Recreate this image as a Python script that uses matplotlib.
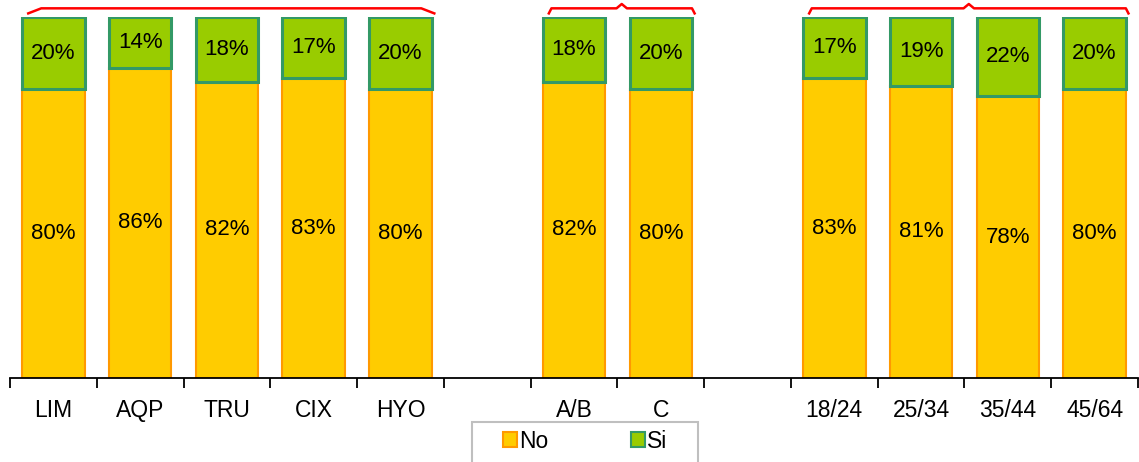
import numpy as np
import matplotlib.pyplot as plt
from matplotlib.patches import Rectangle, Patch
from matplotlib.transforms import blended_transform_factory

plt.rcParams['font.family'] = ['Liberation Sans', 'DejaVu Sans']

# Kategorien (leere Einträge trennen die Gruppen)
categories = ['LIM', 'AQP', 'TRU', 'CIX', 'HYO', '',
              'A/B', 'C', '',
              '18/24', '25/34', '35/44', '45/64']
no_values = [80, 86, 82, 83, 80, None, 82, 80, None, 83, 81, 78, 80]
si_values = [20, 14, 18, 17, 20, None, 18, 20, None, 17, 19, 22, 20]
groups = [(0, 4), (6, 7), (9, 12)]

YELLOW, YELLOW_EDGE = '#FFCC00', '#FF9900'
GREEN, GREEN_EDGE = '#99CC00', '#339966'
BAR_W = 0.72

fig = plt.figure(figsize=(11.39, 4.62), dpi=100, facecolor='w')
ax = fig.add_axes([10 / 1139, 84 / 462, 1128 / 1139, 361 / 462])

x = np.arange(len(categories))
for i, (n, s) in enumerate(zip(no_values, si_values)):
    if n is None:
        continue
    ax.bar(i, n, width=BAR_W, color=YELLOW, edgecolor=YELLOW_EDGE,
           linewidth=1.5)
    ax.bar(i, s, bottom=n, width=BAR_W, color=GREEN, edgecolor=GREEN_EDGE,
           linewidth=2.2)
    ax.text(i, n / 2, f'{n}%', ha='center', va='center', fontsize=16)
    ax.text(i, n + s / 2, f'{s}%', ha='center', va='center', fontsize=16)

ax.set_xlim(-0.5, len(categories) - 0.5)
ax.set_ylim(0, 100)
for side in ['left', 'right', 'top']:
    ax.spines[side].set_visible(False)
ax.spines['bottom'].set_linewidth(1.3)
ax.set_yticks([])
ax.set_xticks(x)
ax.set_xticklabels(categories, fontsize=16.5)
ax.tick_params(axis='x', which='major', length=0, pad=15)
ax.set_xticks(np.arange(-0.5, len(categories), 1), minor=True)
ax.tick_params(axis='x', which='minor', length=7, width=1.3,
               direction='out', color='black')

# Geschweifte Klammern über den Gruppen
trans = blended_transform_factory(ax.transData, ax.transAxes)
for k, (a, b) in enumerate(groups):
    x0 = a - BAR_W / 2 + 0.07
    x1 = b + BAR_W / 2 + 0.03
    xm = (x0 + x1) / 2
    y0, y1 = 1.010, 1.024
    if k == 0:
        xs = [x0, x0 + 0.15, x1 - 0.15, x1]
        ys = [y0, y1, y1, y0]
    else:
        xs = [x0, x0 + 0.03, xm - 0.06, xm, xm + 0.06, x1 - 0.03, x1]
        ys = [y0, y1, y1, 1.036, y1, y1, y0]
    ax.plot(xs, ys, color='red', lw=1.8, transform=trans, clip_on=False)

# Legende mit grauem Rahmen
fig.patches.append(Rectangle((472 / 1139, -0.05), 226 / 1139,
                             (462 - 422) / 462 + 0.05,
                             transform=fig.transFigure, fill=False,
                             edgecolor='#BFBFBF', linewidth=1.5))
handles = [Patch(facecolor=YELLOW, edgecolor=YELLOW_EDGE, lw=1.5),
           Patch(facecolor=GREEN, edgecolor=GREEN_EDGE, lw=1.5)]
fig.legend(handles, ['No', 'Si'], loc='center',
           bbox_to_anchor=(585 / 1139, 1 - 441 / 462), ncol=2,
           frameon=False, fontsize=16.5, handlelength=0.6, handleheight=0.6,
           handletextpad=0.1, columnspacing=3.6)

fig.savefig('out.png', dpi=100, facecolor='w')
